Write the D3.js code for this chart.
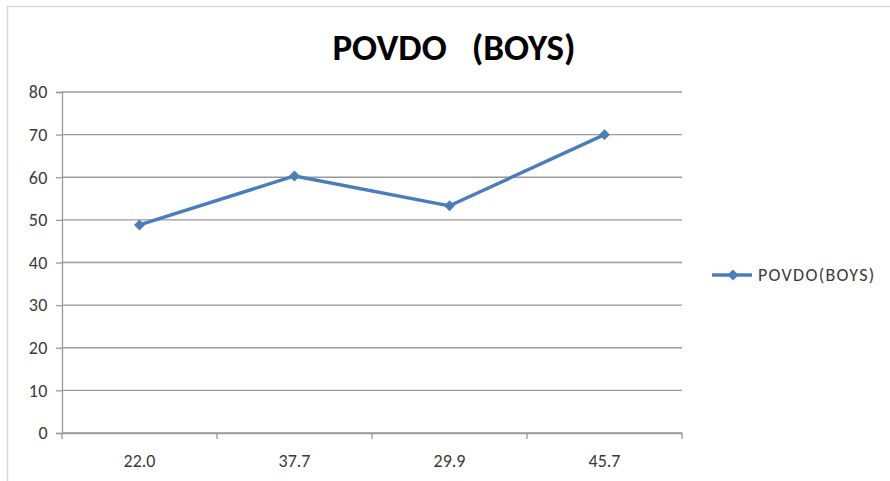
<!DOCTYPE html>
<html>
<head>
<meta charset="utf-8">
<script src="https://cdn.jsdelivr.net/npm/d3@7"></script>
<style>
  html, body { margin: 0; padding: 0; background: #fff; }
  svg { display: block; }
</style>
</head>
<body>
<svg id="chart" width="890" height="481"></svg>
<script>
// Chart data
const categories = ["22.0", "37.7", "29.9", "45.7"];
const values = [48.8, 60.3, 53.3, 70.0];
const yTicks = [0, 10, 20, 30, 40, 50, 60, 70, 80];
const seriesName = "POVDO(BOYS)";
const titleText = "POVDO\u00a0\u00a0\u00a0(BOYS)";

const svg = d3.select("#chart");
const W = 890, H = 481;
const plot = { left: 62, right: 682, top: 92, bottom: 433 };
const font = "Carlito, 'Open Sans', 'Liberation Sans', sans-serif";
const lineColor = "#4a7ebb";
const gridColor = "#9a9a9a";
const textColor = "#3a3a3a";

// Chart-area frame
svg.append("rect")
  .attr("x", 7.5).attr("y", 6.5)
  .attr("width", W + 10).attr("height", H - 4)
  .attr("fill", "#fff")
  .attr("stroke", "#d9d9d9")
  .attr("stroke-width", 1.5);

const x = d3.scaleBand().domain(categories).range([plot.left, plot.right]);
const y = d3.scaleLinear().domain([0, 80]).range([plot.bottom, plot.top]);

// Horizontal gridlines
svg.append("g")
  .selectAll("line")
  .data(yTicks)
  .join("line")
  .attr("x1", plot.left).attr("x2", plot.right)
  .attr("y1", d => y(d)).attr("y2", d => y(d))
  .attr("stroke", gridColor)
  .attr("stroke-width", 1.3);

// Y axis
const yAxis = svg.append("g")
  .attr("transform", `translate(${plot.left},0)`)
  .call(d3.axisLeft(y).tickValues(yTicks).tickSize(6).tickPadding(8).tickFormat(d3.format("d")));
yAxis.select(".domain").attr("stroke", gridColor).attr("stroke-width", 1.3);
yAxis.selectAll(".tick line").attr("stroke", gridColor).attr("stroke-width", 1.3);
yAxis.selectAll("text")
  .attr("fill", textColor)
  .style("font-family", font)
  .style("font-size", "18px")
  .style("letter-spacing", "0.5px");

// X axis with ticks on band boundaries
const xAxis = svg.append("g")
  .attr("transform", `translate(0,${plot.bottom})`)
  .call(d3.axisBottom(x).tickSize(0).tickPadding(21));
xAxis.select(".domain").attr("stroke", gridColor).attr("stroke-width", 1.3);
xAxis.selectAll("text")
  .attr("fill", textColor)
  .style("font-family", font)
  .style("font-size", "18px");
const boundaries = categories.map(c => x(c)).concat([x(categories[categories.length - 1]) + x.bandwidth()]);
xAxis.append("g")
  .selectAll("line")
  .data(boundaries)
  .join("line")
  .attr("x1", d => d).attr("x2", d => d)
  .attr("y1", 0).attr("y2", 6)
  .attr("stroke", gridColor)
  .attr("stroke-width", 1.3);

// Series line
const pts = categories.map((c, i) => ({ c, v: values[i] }));
svg.append("path")
  .datum(pts)
  .attr("fill", "none")
  .attr("stroke", lineColor)
  .attr("stroke-width", 3.4)
  .attr("stroke-linejoin", "round")
  .attr("d", d3.line().x(d => x(d.c) + x.bandwidth() / 2).y(d => y(d.v)));

// Diamond markers (squares turned 45°)
const diamond = d3.symbol().type(d3.symbolSquare).size(60);
svg.append("g")
  .selectAll("path")
  .data(pts)
  .join("path")
  .attr("transform", d => `translate(${x(d.c) + x.bandwidth() / 2},${y(d.v)}) rotate(45)`)
  .attr("d", diamond)
  .attr("fill", lineColor);

// Title
svg.append("text")
  .attr("x", 454).attr("y", 60)
  .attr("text-anchor", "middle")
  .attr("fill", "#000")
  .style("font-family", font)
  .style("font-size", "37px")
  .style("font-weight", "bold")
  .text(titleText);

// Legend
const lg = svg.append("g").attr("transform", "translate(712,275)");
lg.append("line")
  .attr("x1", 0).attr("x2", 40)
  .attr("stroke", lineColor).attr("stroke-width", 3.4);
lg.append("path").attr("transform", "translate(21,0) rotate(45)").attr("d", diamond).attr("fill", lineColor);
lg.append("text")
  .attr("x", 46).attr("y", 6)
  .attr("fill", textColor)
  .style("font-family", font)
  .style("font-size", "18px")
  .style("letter-spacing", "1.3px")
  .text(seriesName);
</script>
</body>
</html>
